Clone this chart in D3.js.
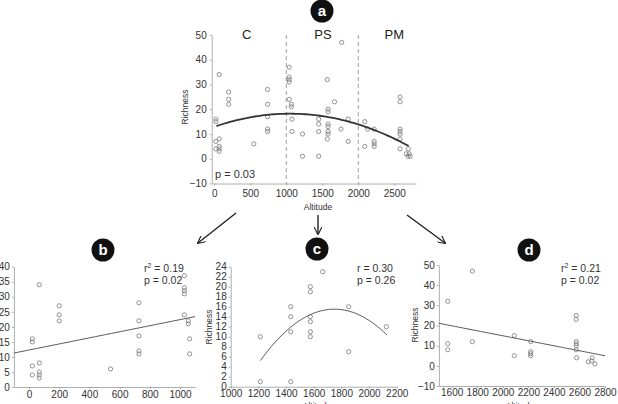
<!DOCTYPE html>
<html>
<head>
<meta charset="utf-8">
<script src="https://cdn.jsdelivr.net/npm/d3@7"></script>
<style>
    body { margin: 0; background: #fff; }
    svg { display: block; font-family: "Liberation Sans", Arial, sans-serif; }
    .axis path, .axis line { stroke: #999; stroke-width: 0.8; }
    .axis text { fill: #333; font-size: 10px; }
    .pt { fill: none; stroke: #777; stroke-width: 0.8; }
</style>
</head>
<body>
<script>
// Panel a: all sites (altitude, richness)
const altA  = [22, 22, 22, 22, 68, 68, 68, 68, 68, 200, 200, 200, 550, 740, 740, 740, 740, 740,
    1040, 1040, 1040, 1040, 1040, 1070, 1070, 1080, 1080, 1225, 1225, 1450, 1450, 1450, 1450,
    1570, 1580, 1580, 1580, 1580, 1580, 1580, 1570, 1670, 1760, 1770, 1860, 1860, 2090, 2090, 2130,
    2220, 2220, 2220, 2220, 2580, 2580, 2580, 2580, 2580, 2580, 2580, 2665, 2695, 2690, 2705, 2720];
const richA = [16, 15, 7, 4, 34, 8, 5, 4, 3, 27, 24, 22, 6, 28, 22, 17, 12, 11,
    37, 33, 32, 31, 24, 22, 21, 16, 11, 10, 1, 16, 14, 11, 1,
    32, 20, 19, 14, 13, 11, 10, 8, 23, 12, 47, 16, 7, 15, 5, 12,
    12, 7, 6, 5, 25, 23, 12, 11, 10, 8, 4, 2, 4, 1, 2, 1];

// Panel b: C zone
const altB  = [22, 22, 22, 22, 68, 68, 68, 68, 68, 200, 200, 200, 540, 728, 728, 728, 728, 728,
    1029, 1029, 1029, 1029, 1029, 1055, 1055, 1064, 1064];
const richB = [16, 15, 7, 4, 34, 8, 5, 4, 3, 27, 24, 22, 6, 28, 22, 17, 12, 11,
    37, 33, 32, 31, 24, 22, 21, 16, 11];

// Panel c: PS zone
const altC  = [1214, 1214, 1434, 1434, 1434, 1434, 1576, 1576, 1576, 1576, 1576, 1576, 1665, 1853, 1853, 2125];
const richC = [10, 1, 16, 14, 11, 1, 20, 19, 14, 13, 11, 10, 23, 16, 7, 12];

// Panel d: PM zone
const altD  = [1569, 1569, 1569, 1762, 1762, 2090, 2090, 2218, 2218, 2218, 2218,
    2575, 2575, 2575, 2575, 2575, 2575, 2578, 2669, 2700, 2697, 2721];
const richD = [32, 11, 8, 47, 12, 15, 5, 12, 7, 6, 5,
    25, 23, 12, 11, 10, 8, 4, 2, 4, 2.4, 1];

// Fitted models: polynomial coefficients [c0, c1, c2] and altitude range drawn
const fitA = [12.91, 0.01008, -4.8e-6],  fitRangeA = [30, 2700];
const fitB = [12.3, 0.0101, 0],          fitRangeB = [-100, 1100];
const fitC = [-94.44, 0.12565, -3.59e-5], fitRangeC = [1215, 2130];
const fitD = [39.67, -0.01238, 0],       fitRangeD = [1500, 2800];

// Tick values
const xTicksA = [0, 500, 1000, 1500, 2000, 2500], yTicksA = [-10, 0, 10, 20, 30, 40, 50];
const xTicksB = [0, 200, 400, 600, 800, 1000],    yTicksB = [0, 5, 10, 15, 20, 25, 30, 35, 40];
const xTicksC = [1000, 1200, 1400, 1600, 1800, 2000, 2200], yTicksC = [0, 2, 4, 6, 8, 10, 12, 14, 16, 18, 20, 22, 24];
const xTicksD = [1600, 1800, 2000, 2200, 2400, 2600, 2800], yTicksD = [-10, 0, 10, 20, 30, 40, 50];

const zoneNames = ["C", "PS", "PM"];
const zoneCentres = [450, 1510, 2500];
const zoneBreaks = [1000, 2000];

const svg = d3.select("body").append("svg")
    .attr("width", 618)
    .attr("height", 404);

svg.append("defs").append("marker")
    .attr("id", "arrow")
    .attr("viewBox", "0 0 10 10")
    .attr("refX", 9).attr("refY", 5)
    .attr("markerWidth", 8).attr("markerHeight", 8)
    .attr("markerUnits", "userSpaceOnUse")
    .attr("orient", "auto")
    .append("path")
    .attr("d", "M0,0 L10,5 L0,10")
    .attr("fill", "none")
    .attr("stroke", "#222")
    .attr("stroke-width", 1.4);

function poly(c, x)
{
    return c[0] + c[1] * x + c[2] * x * x;
}

/**
 * Draws one scatter panel with axes, points and fitted curve.
 */
function drawPanel(p)
{
    const x = d3.scaleLinear().domain(p.xDomain).range(p.xRange);
    const y = d3.scaleLinear().domain(p.yDomain).range(p.yRange);
    const g = svg.append("g");

    g.append("g")
        .attr("class", "axis")
        .attr("transform", `translate(0,${p.yRange[0]})`)
        .call(d3.axisBottom(x).tickValues(p.xTicks).tickFormat(d3.format("d"))
            .tickSizeInner(2).tickSizeOuter(0).tickPadding(p.xPad));

    g.append("g")
        .attr("class", "axis")
        .attr("transform", `translate(${p.xRange[0]},0)`)
        .call(d3.axisLeft(y).tickValues(p.yTicks).tickFormat(d3.format("d"))
            .tickSizeInner(2).tickSizeOuter(0).tickPadding(p.yPad));

    if (p.breaks) {
        g.selectAll("line.zone")
            .data(p.breaks)
            .join("line")
            .attr("x1", d => x(d)).attr("x2", d => x(d))
            .attr("y1", y(p.yDomain[1])).attr("y2", y(p.yDomain[0]))
            .attr("stroke", "#888")
            .attr("stroke-width", 0.8)
            .attr("stroke-dasharray", "4,3");
    }

    g.selectAll("circle.pt")
        .data(d3.zip(p.alt, p.rich))
        .join("circle")
        .attr("class", "pt")
        .attr("cx", d => x(d[0]))
        .attr("cy", d => y(d[1]))
        .attr("r", 2.1);

    const xs = d3.range(p.fitRange[0], p.fitRange[1] + 1, (p.fitRange[1] - p.fitRange[0]) / 80);
    g.append("path")
        .datum(xs)
        .attr("fill", "none")
        .attr("stroke", p.lineColor)
        .attr("stroke-width", p.lineWidth)
        .attr("d", d3.line().x(d => x(d)).y(d => y(poly(p.fit, d))));

    if (p.yLabel) {
        g.append("text")
            .attr("transform", `translate(${p.yLabel[0]},${p.yLabel[1]}) rotate(-90)`)
            .attr("text-anchor", "middle")
            .attr("font-size", 8.5)
            .attr("fill", "#333")
            .text("Richness");
    }
    if (p.xLabel) {
        g.append("text")
            .attr("x", p.xLabel[0]).attr("y", p.xLabel[1])
            .attr("text-anchor", "middle")
            .attr("font-size", 8.5)
            .attr("fill", "#333")
            .text("Altitude");
    }

    // stats text
    if (p.stats) {
        const t = g.append("text")
            .attr("x", p.stats.x).attr("y", p.stats.y)
            .attr("font-size", 10.5)
            .attr("fill", "#333");
        if (p.stats.sup) {
            t.append("tspan").text("r");
            t.append("tspan").attr("font-size", 7).attr("dy", -4).text("2");
            t.append("tspan").attr("dy", 4).text(" = " + p.stats.r);
        } else {
            t.text("r = " + p.stats.r);
        }
        g.append("text")
            .attr("x", p.stats.x).attr("y", p.stats.y + 12)
            .attr("font-size", 10.5)
            .attr("fill", "#333")
            .text("p = " + p.stats.p);
    }

    // badge
    g.append("circle")
        .attr("cx", p.badge[0]).attr("cy", p.badge[1])
        .attr("r", 11.5)
        .attr("fill", "#111");
    g.append("text")
        .attr("x", p.badge[0]).attr("y", p.badge[1] + 5)
        .attr("text-anchor", "middle")
        .attr("font-size", 15)
        .attr("font-weight", "bold")
        .attr("fill", "#fff")
        .text(p.name);

    return {x, y, g};
}

const a = drawPanel({
    name: "a", alt: altA, rich: richA, fit: fitA, fitRange: fitRangeA,
    xDomain: [-36, 2800], xRange: [211.7, 415.9], yDomain: [-10, 50], yRange: [183.5, 35],
    xTicks: xTicksA, yTicks: yTicksA, xPad: 4.5, yPad: 3,
    breaks: zoneBreaks, lineColor: "#333", lineWidth: 1.8,
    yLabel: [188, 107], xLabel: [318, 210], badge: [322, 11]
});

a.g.selectAll("text.zone")
    .data(zoneNames)
    .join("text")
    .attr("x", (d, i) => a.x(zoneCentres[i]))
    .attr("y", a.y(48.4))
    .attr("text-anchor", "middle")
    .attr("font-size", 13)
    .attr("fill", "#222")
    .text(d => d);

a.g.append("text")
    .attr("x", 215).attr("y", a.y(-7.9))
    .attr("font-size", 11)
    .attr("fill", "#333")
    .text("p = 0.03");

drawPanel({
    name: "b", alt: altB, rich: richB, fit: fitB, fitRange: fitRangeB,
    xDomain: [-100, 1100], xRange: [13.9, 195.1], yDomain: [0, 40], yRange: [387, 266.7],
    xTicks: xTicksB, yTicks: yTicksB, xPad: 2, yPad: 2,
    lineColor: "#555", lineWidth: 1,
    stats: {x: 144, y: 272, r: "0.19", p: "0.02", sup: true}, badge: [103, 250]
});

drawPanel({
    name: "c", alt: altC, rich: richC, fit: fitC, fitRange: fitRangeC,
    xDomain: [1000, 2200], xRange: [230.7, 396.7], yDomain: [0, 24], yRange: [386.7, 266.7],
    xTicks: xTicksC, yTicks: yTicksC, xPad: 1.5, yPad: 2,
    lineColor: "#555", lineWidth: 1,
    yLabel: [212, 327], xLabel: [317, 409], stats: {x: 357, y: 272, r: "0.30", p: "0.26", sup: false},
    badge: [317, 249]
});

drawPanel({
    name: "d", alt: altD, rich: richD, fit: fitD, fitRange: fitRangeD,
    xDomain: [1500, 2800], xRange: [438.9, 605], yDomain: [-10, 50], yRange: [386, 265],
    xTicks: xTicksD, yTicks: yTicksD, xPad: 1, yPad: 2,
    lineColor: "#555", lineWidth: 1,
    yLabel: [418, 325], xLabel: [520, 409], stats: {x: 561, y: 272, r: "0.21", p: "0.02", sup: true},
    badge: [529, 250]
});

// arrows from panel a to the three zone panels
const arrows = [[236, 213, 198, 243], [318, 215, 318, 234], [407, 215, 445, 243]];
svg.selectAll("line.arrow")
    .data(arrows)
    .join("line")
    .attr("x1", d => d[0]).attr("y1", d => d[1])
    .attr("x2", d => d[2]).attr("y2", d => d[3])
    .attr("stroke", "#222")
    .attr("stroke-width", 1.4)
    .attr("marker-end", "url(#arrow)");
</script>
</body>
</html>
